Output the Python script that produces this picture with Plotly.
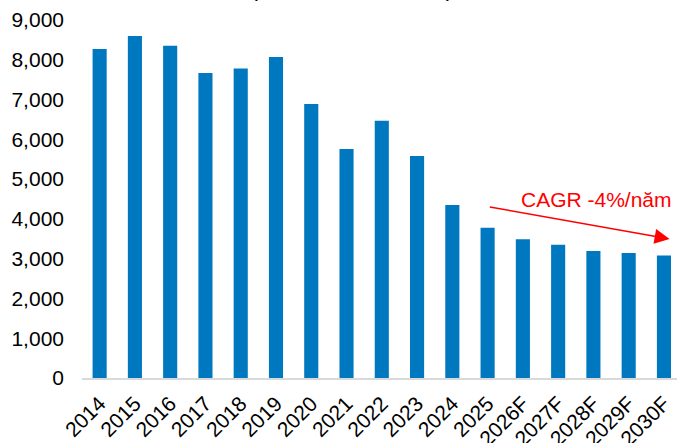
import plotly.graph_objects as go

# Annual values with forecast years (F)
years = ["2014", "2015", "2016", "2017", "2018", "2019", "2020", "2021", "2022",
         "2023", "2024", "2025", "2026F", "2027F", "2028F", "2029F", "2030F"]
values = [8270, 8600, 8350, 7670, 7780, 8070, 6890, 5760, 6470,
          5580, 4350, 3780, 3490, 3350, 3190, 3140, 3080]
y_ticks = [0, 1000, 2000, 3000, 4000, 5000, 6000, 7000, 8000, 9000]
y_tick_text = ["0", "1,000", "2,000", "3,000", "4,000", "5,000", "6,000", "7,000", "8,000", "9,000"]

# CAGR trend arrow (start and end points in data units)
trend_start = (11.02, 4306)
trend_end = (16.16, 3494)
trend_label = "CAGR -4%/năm"
unit_label = "(Đơn vị: triệu USD)"

FONT = "Liberation Sans, Arial, sans-serif"
BAR_COLOR = "#0078C0"

fig = go.Figure()
fig.add_trace(go.Bar(
    x=list(range(len(years))),
    y=values,
    marker=dict(color=BAR_COLOR, line=dict(width=0)),
    hoverinfo="skip",
))

fig.update_layout(
    width=677,
    height=443,
    margin=dict(l=82, r=0, t=20, b=65, autoexpand=False),
    paper_bgcolor="white",
    plot_bgcolor="white",
    bargap=0.6,
    showlegend=False,
    font=dict(family=FONT, size=21, color="black"),
)

fig.update_xaxes(
    range=[-0.5, 16.37],
    tickmode="array",
    tickvals=list(range(len(years))),
    ticktext=years,
    tickangle=-45,
    showgrid=False,
    zeroline=False,
    showline=True,
    linecolor="#D9D9D9",
    linewidth=2,
    ticks="",
    ticklabelstandoff=3,
    automargin=False,
    tickfont=dict(family=FONT, size=21, color="black"),
)

fig.update_yaxes(
    range=[0, 9000],
    tickmode="array",
    tickvals=y_ticks,
    ticktext=y_tick_text,
    showgrid=False,
    zeroline=False,
    showline=False,
    ticks="",
    ticklabelstandoff=17,
    automargin=False,
    tickfont=dict(family=FONT, size=21, color="black"),
)

# Trend arrow
fig.add_annotation(
    x=trend_end[0], y=trend_end[1], xref="x", yref="y",
    ax=trend_start[0], ay=trend_start[1], axref="x", ayref="y",
    text="", showarrow=True,
    arrowhead=2, arrowsize=2, arrowwidth=1.5, arrowcolor="#FF0000",
)

# Trend label
fig.add_annotation(
    x=16.28, y=4475, xref="x", yref="y",
    xanchor="right", yanchor="middle",
    text=trend_label, showarrow=False,
    font=dict(family=FONT, size=21, color="#FF0000"),
)

# Unit label above the chart
fig.add_annotation(
    x=(351.5 - 82) / 595, y=1 + 33 / 358, xref="paper", yref="paper",
    xanchor="center", yanchor="middle",
    text=unit_label, showarrow=False,
    font=dict(family=FONT, size=24, color="black"),
)

fig.write_html("out.html")
